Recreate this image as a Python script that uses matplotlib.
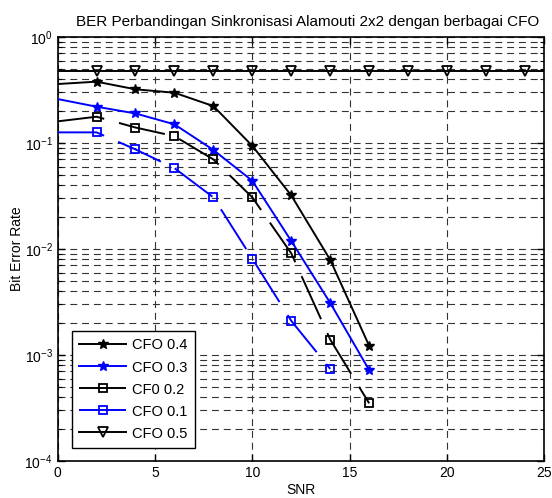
import matplotlib
matplotlib.use("Agg")
import matplotlib.pyplot as plt
import numpy as np
from matplotlib.ticker import LogLocator, LogFormatterMathtext, NullFormatter, FixedLocator

plt.rcParams['font.family'] = ['Liberation Sans', 'DejaVu Sans']
plt.rcParams['mathtext.default'] = 'regular'
plt.rcParams['lines.scale_dashes'] = False

# Data
snr = [0, 2, 4, 6, 8, 10, 12, 14, 16]
ber_cfo04 = [0.36, 0.379, 0.321, 0.298, 0.223, 0.094, 0.032, 0.0079, 0.00122]
ber_cfo03 = [0.26, 0.22, 0.19, 0.15, 0.086, 0.044, 0.0119, 0.0031, 0.00072]
ber_cfo02 = [0.16, 0.177, 0.14, 0.116, 0.070, 0.0307, 0.0091, 0.0014, 0.00035]
snr_cfo01 = [0, 2, 4, 6, 8, 10, 12, 14]
ber_cfo01 = [0.126, 0.126, 0.087, 0.058, 0.0307, 0.0081, 0.0021, 0.00074]
snr_cfo05 = [0, 2, 4, 6, 8, 10, 12, 14, 16, 18, 20, 22, 24, 26]
ber_cfo05 = [0.475] * 14
labels = ['CFO 0.4', 'CFO 0.3', 'CF0 0.2', 'CFO 0.1', 'CFO 0.5']
title = 'BER Perbandingan Sinkronisasi Alamouti 2x2 dengan berbagai CFO'

fig = plt.figure(figsize=(5.52, 4.98), dpi=100)
ax = fig.add_axes([0.1043, 0.0743, 0.882, 0.8514])

lw = 1.4
ax.semilogy(snr, ber_cfo04, color='k', lw=lw, marker='*', ms=7.5, mfc='k', mec='k',
            markevery=slice(1, None), label=labels[0], zorder=5)
ax.semilogy(snr, ber_cfo03, color='b', lw=lw, marker='*', ms=7.5, mfc='b', mec='b',
            markevery=slice(1, None), label=labels[1], zorder=5)
ax.semilogy(snr, ber_cfo02, color='k', lw=lw, marker='s', ms=6, mfc='none', mec='k', mew=1.3,
            dashes=(34, 11), markevery=slice(1, None), label=labels[2], zorder=5)
ax.semilogy(snr_cfo01, ber_cfo01, color='b', lw=lw, marker='s', ms=6, mfc='none', mec='b', mew=1.3,
            dashes=(34, 11), markevery=slice(1, None), label=labels[3], zorder=5)
ax.semilogy(snr_cfo05, ber_cfo05, color='k', lw=lw, marker='v', ms=6.5, mfc='none', mec='k', mew=1.3,
            markevery=slice(1, 13), label=labels[4], zorder=5)

ax.set_xlim(0, 25)
ax.set_ylim(1e-4, 1)
ax.xaxis.set_major_locator(FixedLocator([0, 5, 10, 15, 20, 25]))
ax.yaxis.set_major_locator(LogLocator(base=10, numticks=10))
ax.yaxis.set_minor_locator(LogLocator(base=10, subs=np.arange(2, 10), numticks=20))
ax.yaxis.set_major_formatter(LogFormatterMathtext())
ax.yaxis.set_minor_formatter(NullFormatter())

gkw = dict(color='0.2', lw=0.8, linestyle=(0, (5, 3.5)))
ax.grid(True, which='major', axis='both', **gkw)
ax.grid(True, which='minor', axis='y', **gkw)

ax.tick_params(which='both', direction='in', top=True, right=True, labelsize=10, colors='k')
ax.tick_params(which='major', length=5, width=1)
ax.tick_params(which='minor', length=3, width=0.8)
for s in ax.spines.values():
    s.set_linewidth(1.2)
    s.set_color('k')

ax.set_title(title, fontsize=11, pad=8, x=0.514)
ax.set_xlabel('SNR', fontsize=10, labelpad=2)
ax.set_ylabel('Bit Error Rate', fontsize=10, labelpad=0.5)

leg = ax.legend(loc='lower left', bbox_to_anchor=(0.030, 0.031), fontsize=10.5, fancybox=False,
                framealpha=1, edgecolor='k', borderaxespad=0, handlelength=3.2,
                labelspacing=0.55, borderpad=0.5, handletextpad=0.4)
leg.get_frame().set_linewidth(1.0)
leg.set_zorder(10)

fig.savefig('out.png', dpi=100)
